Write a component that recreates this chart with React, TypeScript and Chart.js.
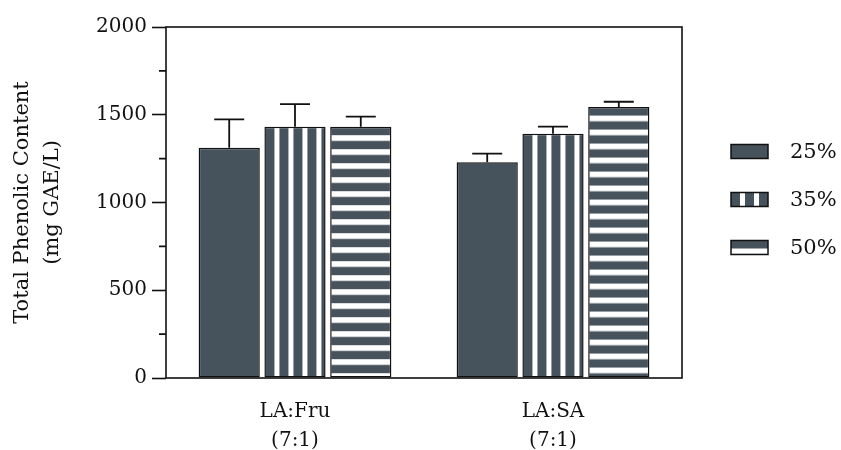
import React, { useEffect, useRef } from 'react';
import { Chart, registerables } from 'chart.js';

Chart.register(...registerables);

const categories = [
  ['LA:Fru', '(7:1)'],
  ['LA:SA', '(7:1)'],
];
const seriesLabels = ['25%', '35%', '50%'];
const values25 = [1312, 1229];
const values35 = [1432, 1392];
const values50 = [1432, 1544];
const errors25 = [162, 49];
const errors35 = [129, 40];
const errors50 = [57, 30];
const yMajorStep = 500;
const yMax = 2000;
const yMinorTicks = [250, 750, 1250, 1750];
const yTitle = ['Total Phenolic Content', '(mg GAE/L)'];

const DARK = '#47535c';
const INK = '#111111';
const FONT = "'DejaVu Serif', serif";
const FONT_SIZE = 20;
const TITLE_SIZE = 21;

const CAT_PCT = 0.765;
const BAR_PCT = 0.93;

function makeStripeCanvas(kind: 'v' | 'h'): HTMLCanvasElement {
  const c = document.createElement('canvas');
  if (kind === 'v') {
    c.width = 14;
    c.height = 2;
  } else {
    c.width = 2;
    c.height = 14;
  }
  const g = c.getContext('2d')!;
  g.fillStyle = DARK;
  g.fillRect(0, 0, c.width, c.height);
  g.fillStyle = '#ffffff';
  if (kind === 'v') g.fillRect(0, 0, 5, 2);
  else {
    g.fillRect(0, 0, 2, 5);
    g.fillStyle = '#c9cdd0';
    g.fillRect(0, 5, 2, 1);
  }
  return c;
}

const vCanvas = makeStripeCanvas('v');
const hCanvas = makeStripeCanvas('h');

function barLeft(chart: any, dataIndex: number, datasetIndex: number): number {
  const x = chart.scales.x;
  const center = x.getPixelForValue(dataIndex);
  const catW = (x.right - x.left) / categories.length;
  const group = catW * CAT_PCT;
  const slot = group / seriesLabels.length;
  return center - group / 2 + slot * datasetIndex + (slot * (1 - BAR_PCT)) / 2;
}

function patternFill(kind: 'solid' | 'v' | 'h') {
  return (ctx: any) => {
    if (kind === 'solid') return DARK;
    if (ctx.type !== 'data') return DARK;
    const chart = ctx.chart;
    const sx = chart.scales && chart.scales.x;
    const sy = chart.scales && chart.scales.y;
    if (!sx || !sy) return DARK;
    const p = chart.ctx.createPattern(kind === 'v' ? vCanvas : hCanvas, 'repeat');
    if (!p) return DARK;
    const top = sy.getPixelForValue(ctx.raw);
    const left = barLeft(chart, ctx.dataIndex, ctx.datasetIndex);
    p.setTransform(new DOMMatrix().translate(left + 10, top + 8.5));
    return p;
  };
}

const errorSets = [errors25, errors35, errors50];
const kinds: Array<'solid' | 'v' | 'h'> = ['solid', 'v', 'h'];

const decorPlugin = {
  id: 'decor',
  afterDatasetsDraw(chart: any) {
    const { ctx, chartArea: a } = chart;
    const y = chart.scales.y;
    ctx.save();
    ctx.strokeStyle = INK;
    ctx.lineWidth = 1.8;
    // error bars (upper only)
    errorSets.forEach((errs, di) => {
      const meta = chart.getDatasetMeta(di);
      meta.data.forEach((bar: any, i: number) => {
        const v = chart.data.datasets[di].data[i] as number;
        const yTop = y.getPixelForValue(v + errs[i]);
        ctx.beginPath();
        ctx.moveTo(bar.x, bar.y);
        ctx.lineTo(bar.x, yTop);
        ctx.moveTo(bar.x - 15, yTop);
        ctx.lineTo(bar.x + 15, yTop);
        ctx.stroke();
      });
    });
    // frame
    ctx.lineWidth = 1.6;
    ctx.strokeRect(a.left, a.top, a.right - a.left, a.bottom - a.top);
    // minor ticks
    ctx.beginPath();
    yMinorTicks.forEach((v) => {
      const py = y.getPixelForValue(v);
      ctx.moveTo(a.left - 7, py);
      ctx.lineTo(a.left, py);
    });
    ctx.stroke();
    // legend
    const bx = a.right + 49;
    const midY = (a.top + a.bottom) / 2 - 3;
    const gap = 48;
    ctx.font = `${TITLE_SIZE}px ${FONT}`;
    ctx.textBaseline = 'middle';
    ctx.textAlign = 'left';
    seriesLabels.forEach((lab, i) => {
      const cy = midY + (i - 1) * gap;
      const w = 37;
      const h = 14;
      const top = cy - h / 2;
      let fill: any = DARK;
      if (kinds[i] !== 'solid') {
        const p = ctx.createPattern(kinds[i] === 'v' ? vCanvas : hCanvas, 'repeat');
        p.setTransform(new DOMMatrix().translate(bx + 9, top + 8));
        fill = p;
      }
      ctx.fillStyle = fill;
      ctx.fillRect(bx, top, w, h);
      ctx.lineWidth = 1.5;
      ctx.strokeStyle = INK;
      ctx.strokeRect(bx, top, w, h);
      ctx.fillStyle = INK;
      ctx.fillText(lab, bx + 59, cy + 1);
    });
    ctx.restore();
  },
};

export default function App() {
  const ref = useRef<HTMLCanvasElement | null>(null);
  useEffect(() => {
    if (!ref.current) return;
    const datasets = [values25, values35, values50].map((vals, i) => ({
      label: seriesLabels[i],
      data: vals,
      backgroundColor: patternFill(kinds[i]),
      borderColor: INK,
      borderWidth: 1.5,
      borderSkipped: false as const,
      categoryPercentage: CAT_PCT,
      barPercentage: BAR_PCT,
    }));
    const chart = new Chart(ref.current, {
      type: 'bar',
      data: { labels: categories as any, datasets },
      plugins: [decorPlugin],
      options: {
        animation: false,
        responsive: true,
        maintainAspectRatio: false,
        events: [],
        layout: { padding: { top: 27, right: 159, left: 0, bottom: 0 } },
        plugins: { legend: { display: false }, tooltip: { enabled: false } },
        scales: {
          x: {
            grid: { display: false, drawTicks: false },
            border: { display: false },
            ticks: {
              color: INK,
              padding: 19,
              font: { family: FONT, size: FONT_SIZE, lineHeight: 1.45 },
            },
            afterFit: (s: any) => {
              s.height = 72;
            },
          },
          y: {
            min: 0,
            max: yMax,
            grid: {
              drawOnChartArea: false,
              drawTicks: true,
              tickLength: 14,
              tickColor: INK,
              tickWidth: 1.6,
            },
            border: { display: false },
            ticks: {
              stepSize: yMajorStep,
              color: INK,
              padding: 5,
              font: { family: FONT, size: FONT_SIZE },
              callback: (v: any) => String(v),
            },
            title: {
              display: true,
              text: yTitle,
              color: INK,
              font: { family: FONT, size: TITLE_SIZE, lineHeight: 1.45 },
              padding: { top: 7, bottom: 0 },
            },
            afterFit: (s: any) => {
              s.width = 166;
            },
          },
        },
      },
    });
    return () => chart.destroy();
  }, []);
  return (
    <div style={{ position: 'absolute', left: 0, top: 0, width: 841, height: 450, background: '#fff' }}>
      <canvas ref={ref} />
    </div>
  );
}
